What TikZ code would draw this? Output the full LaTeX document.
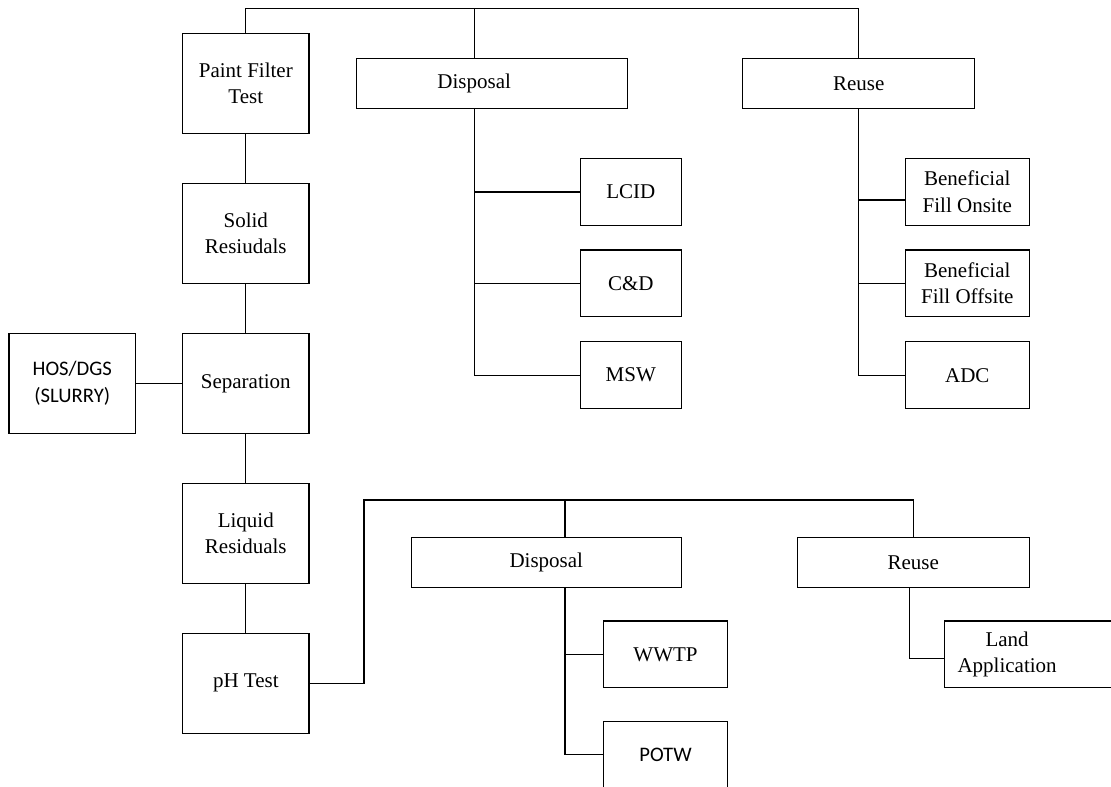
\documentclass[tikz,border=0pt]{standalone}
\usepackage{fontspec}
\setmainfont{Liberation Serif}
\newfontfamily\calfont{Carlito}
\begin{document}
\begin{tikzpicture}[x=0.75pt,y=-0.75pt,
  line width=0.8pt,
  font=\fontsize{15.75}{20}\selectfont,
  box/.style={draw, rectangle, inner sep=0pt, align=center},
  tall/.style={box, minimum width=94.8pt, minimum height=75pt},
  wide/.style={box, minimum height=37.5pt},
  leaf/.style={box, minimum height=50pt}]
\useasboundingbox (0,0) rectangle (1111,786);
\clip (0,0) rectangle (1111,786);
% main chain
\node[tall] (pft) at (245.8,83.3){Paint Filter\\Test};
\node[tall] (sol) at (245.8,233.3){Solid\\Resiudals};
\node[tall] (sep) at (245.8,383.3){Separation};
\node[tall] (liq) at (245.8,533.3){Liquid\\Residuals};
\node[tall] (ph) at (245.8,683.3){pH Test};
\node[tall, minimum width=95pt, font=\calfont\fontsize{15.5}{20}\selectfont] (hos) at (72.3,383.3){HOS/DGS\\(SLURRY)};
\draw[](pft) -- (sol);
\draw[](sol) -- (sep);
\draw[](sep) -- (liq);
\draw[](liq) -- (ph);
\draw[](hos) -- (sep);
% solids
\node[wide, minimum width=203.5pt] (disp) at (491.7,83.3){\hspace*{-26.2pt}Disposal};
\node[wide, minimum width=174.2pt] (reuse) at (858.8,83.3){Reuse};
\node[leaf, minimum width=75.8pt] (lcid) at (630.8,192){LCID};
\node[leaf, minimum width=75.8pt] (cd) at (630.8,283.3){C\&D};
\node[leaf, minimum width=75.8pt] (msw) at (630.8,375.2){MSW};
\node[leaf, minimum width=93pt] (onsite) at (967.3,192){Beneficial\\Fill Onsite};
\node[leaf, minimum width=93pt] (offsite) at (967.3,283.3){Beneficial\\Fill Offsite};
\node[leaf, minimum width=93pt] (adc) at (967.3,375.2){ADC};
\coordinate (dtap) at (474.5,8.3);
\draw[](pft.north) |- (reuse.north |- dtap) -- (reuse.north);
\draw[](dtap) -- (dtap |- disp.north);
\draw[](dtap |- disp.south) |- (msw.west);
\draw[](dtap |- lcid.west) -- (lcid.west);
\draw[](dtap |- cd.west) -- (cd.west);
\draw[](reuse.south) |- (adc.west);
\draw[](reuse.south |- onsite.west) ++(0,8) -- ([yshift=-6pt]onsite.west);
\draw[](reuse.south |- offsite.west) -- (offsite.west);
% liquids
\node[wide, minimum width=202.5pt] (disp2) at (546.3,562.7){Disposal};
\node[wide, minimum width=174.2pt] (reuse2) at (913.2,562.7){Reuse};
\node[leaf, minimum width=93.3pt] (wwtp) at (665.5,654.3){WWTP};
\node[leaf, minimum width=93.3pt, font=\calfont\fontsize{15.5}{20}\selectfont] (potw) at (665.5,754.7){POTW};
\node[box, minimum height=50pt, text width=130pt, inner xsep=9.75pt, align=left, anchor=west] (land) at (944,654.3){\begin{tabular}{@{}c@{}}Land\\Application\end{tabular}};
\coordinate (ltap) at (364,500);
\coordinate (d2tap) at (565,500);
\draw[](ph.east) -| (ltap) -| (reuse2.north);
\draw[](d2tap) -- (d2tap |- disp2.north);
\draw[](d2tap |- disp2.south) |- (potw.west);
\draw[](d2tap |- wwtp.west) -- (wwtp.west);
\draw[]([xshift=-3pt]reuse2.south) |- ([yshift=-3pt]land.west);
\end{tikzpicture}
\end{document}
